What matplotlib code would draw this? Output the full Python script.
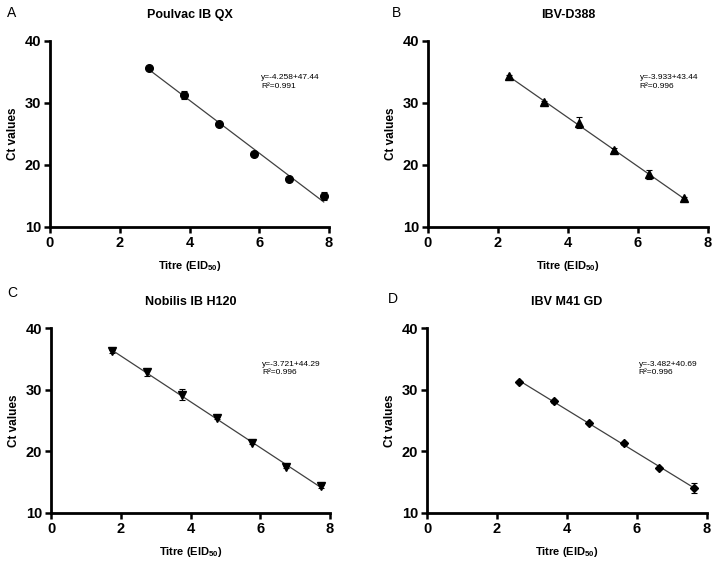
# Standard curves: Ct values vs titre for four IBV strains
import numpy as np
import matplotlib
matplotlib.use("Agg")
import matplotlib.pyplot as plt

plt.rcParams['font.family'] = ['Liberation Sans', 'DejaVu Sans']
plt.rcParams['mathtext.fontset'] = 'custom'
plt.rcParams['mathtext.rm'] = 'Liberation Sans:bold'
plt.rcParams['mathtext.default'] = 'rm'

# =========================
# Data
# =========================
titles = ["Poulvac IB QX", "IBV-D388", "Nobilis IB H120", "IBV M41 GD"]
letters = ["A", "B", "C", "D"]
markers = ["o", "^", "v", "D"]

titre_a = [2.85, 3.85, 4.85, 5.85, 6.85, 7.85]
ct_a    = [35.7, 31.3, 26.6, 21.8, 17.7, 15.0]
err_a   = [0.2, 0.6, 0.2, 0.2, 0.2, 0.7]

titre_b = [2.3, 3.3, 4.3, 5.3, 6.3, 7.3]
ct_b    = [34.3, 30.2, 26.8, 22.5, 18.5, 14.6]
err_b   = [0.2, 0.2, 0.9, 0.2, 0.7, 0.2]

titre_c = [1.75, 2.75, 3.75, 4.75, 5.75, 6.75, 7.75]
ct_c    = [36.2, 32.8, 29.2, 25.4, 21.4, 17.5, 14.3]
err_c   = [0.2, 0.6, 0.9, 0.2, 0.2, 0.2, 0.2]

titre_d = [2.64, 3.64, 4.64, 5.64, 6.64, 7.63]
ct_d    = [31.2, 28.1, 24.6, 21.3, 17.3, 14.0]
err_d   = [0.2, 0.2, 0.2, 0.2, 0.2, 0.8]

equations = ["y=-4.258+47.44", "y=-3.933+43.44", "y=-3.721+44.29", "y=-3.482+40.69"]
r2_labels = ["R²=0.991", "R²=0.996", "R²=0.996", "R²=0.996"]

series = [
    (titre_a, ct_a, err_a),
    (titre_b, ct_b, err_b),
    (titre_c, ct_c, err_c),
    (titre_d, ct_d, err_d),
]

# =========================
# Layout (pixel boxes of the axes)
# =========================
W, H = 717, 562
boxes = [  # left, top, right, bottom in pixels
    (50, 41, 329, 227),
    (428, 41, 708, 227),
    (51, 328, 330, 513),
    (427, 328, 707, 513),
]
letter_pos = [(7, 13), (392, 13), (7, 293), (388, 299)]

fig = plt.figure(figsize=(W / 100, H / 100), dpi=100)

for i, (x, y, e) in enumerate(series):
    l, t, r, b = boxes[i]
    ax = fig.add_axes([l / W, 1 - b / H, (r - l) / W, (b - t) / H])

    # fitted line over the range of the data
    slope, icpt = np.polyfit(x, y, 1)
    xs = np.array([min(x), max(x)])
    ax.plot(xs, slope * xs + icpt, color='#404040', lw=0.9, zorder=2)

    ax.errorbar(x, y, yerr=e, fmt=markers[i], color='black',
                ms=5.5 if markers[i] != 'D' else 4.2,
                elinewidth=0.8, capsize=2.5, capthick=0.8, zorder=3)

    ax.set_xlim(0, 8)
    ax.set_ylim(10, 40)
    ax.set_xticks([0, 2, 4, 6, 8])
    ax.set_yticks([10, 20, 30, 40])

    for side in ['top', 'right']:
        ax.spines[side].set_visible(False)
    for side in ['left', 'bottom']:
        ax.spines[side].set_linewidth(2)
    ax.tick_params(direction='out', length=4.5, width=1.8, pad=2,
                   labelsize=10.5)
    for lab in ax.get_xticklabels() + ax.get_yticklabels():
        lab.set_fontweight('bold')

    ax.set_xlabel("Titre (EID$_{50}$)", fontsize=8, fontweight='bold')
    ax.set_ylabel("Ct values", fontsize=8.5, fontweight='bold')
    ax.xaxis.set_label_coords(0.5, -32 / (b - t))
    ax.yaxis.set_label_coords(-31 / (r - l), 0.5)

    ax.text(0.5, 1 + 26 / (b - t), titles[i], transform=ax.transAxes,
            ha='center', va='center', fontsize=9, fontweight='bold')

    ax.text(6.05, 33.4, equations[i] + "\n" + r2_labels[i],
            fontsize=6, va='center', ha='left', linespacing=1.3,
            family=['Liberation Sans Narrow', 'Liberation Sans'])

    lx, ly = letter_pos[i]
    fig.text(lx / W, 1 - ly / H, letters[i], fontsize=10,
             ha='left', va='center')

fig.savefig("out.png", dpi=100)
